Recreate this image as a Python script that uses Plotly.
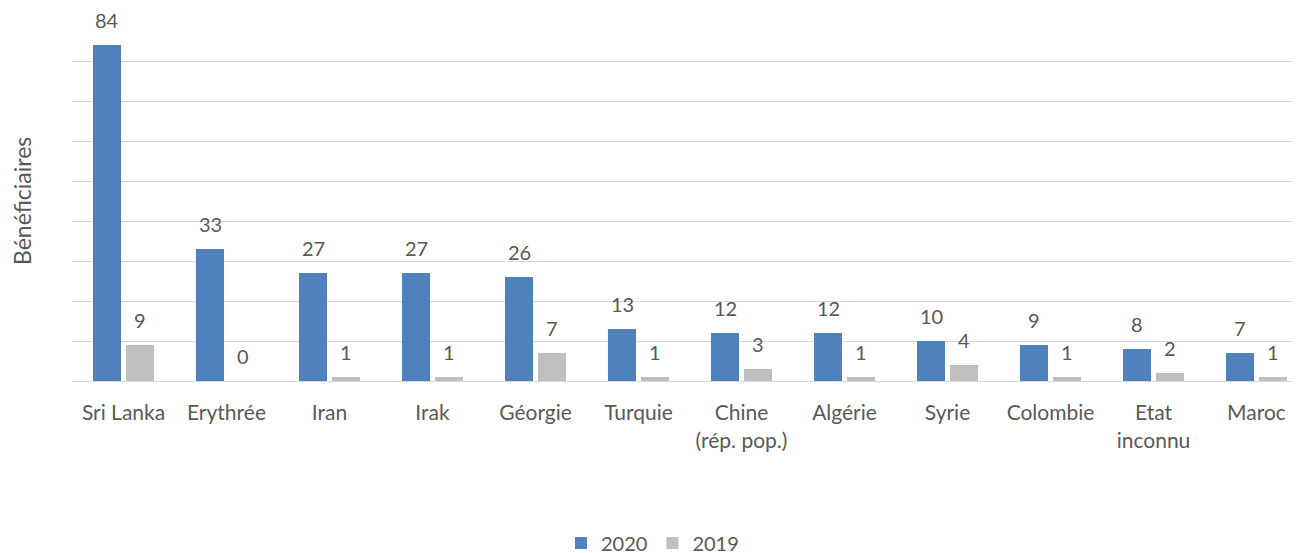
import plotly.graph_objects as go

categories = ["Sri Lanka", "Erythrée", "Iran", "Irak", "Géorgie", "Turquie",
              "Chine<br>(rép. pop.)", "Algérie", "Syrie", "Colombie",
              "Etat<br>inconnu", "Maroc"]
values_2020 = [84, 33, 27, 27, 26, 13, 12, 12, 10, 9, 8, 7]
values_2019 = [9, 0, 1, 1, 7, 1, 3, 1, 4, 1, 2, 1]

FONT = "Lato, 'Open Sans', sans-serif"
TXT = "#595959"
PLOT_W = 1301 - 64  # plot-area width in px

fig = go.Figure()
fig.add_trace(go.Bar(x=categories, y=values_2020, name="2020",
                     marker=dict(color="#4F81BD", line=dict(width=0))))
fig.add_trace(go.Bar(x=categories, y=values_2019, name="2019",
                     marker=dict(color="#BFBFBF", line=dict(width=0))))

annotations = []
for cat, v20, v19 in zip(categories, values_2020, values_2019):
    for v, dx in ((v20, -16.5), (v19, 16.5)):
        annotations.append(dict(x=cat, y=v, text=str(v), showarrow=False,
                                xref="x", yref="y", xshift=dx, yshift=25,
                                yanchor="middle",
                                font=dict(family=FONT, size=20, color=TXT)))
annotations.append(dict(text="Bénéficiaires", xref="paper", yref="paper",
                        x=-50 / PLOT_W, y=0.5, xanchor="center", yanchor="middle",
                        textangle=-90, showarrow=False,
                        font=dict(family=FONT, size=23, color=TXT)))

fig.update_layout(
    width=1301, height=553,
    margin=dict(l=64, r=0, t=13, b=180, autoexpand=False),
    paper_bgcolor="white", plot_bgcolor="white",
    barmode="group", bargap=0.359, bargroupgap=0.15,
    font=dict(family=FONT, size=20, color=TXT),
    annotations=annotations,
    showlegend=True,
    legend=dict(orientation="h", x=0.5 - 38 / PLOT_W, xanchor="center",
                y=-162 / 360, yanchor="middle", font=dict(size=20, color=TXT),
                itemwidth=30, traceorder="normal"),
    xaxis=dict(type="category", range=[-0.5, -0.5 + PLOT_W / 103], showgrid=False,
               automargin=False,
               showline=True, linecolor="#D9D9D9", linewidth=1,
               ticks="", ticklabelstandoff=13,
               tickfont=dict(size=21, color=TXT)),
    yaxis=dict(range=[0, 90], dtick=10, showgrid=True, gridcolor="#D9D9D9",
               gridwidth=1, zeroline=False, showticklabels=False,
               automargin=False),
)

fig.write_html("out.html")
